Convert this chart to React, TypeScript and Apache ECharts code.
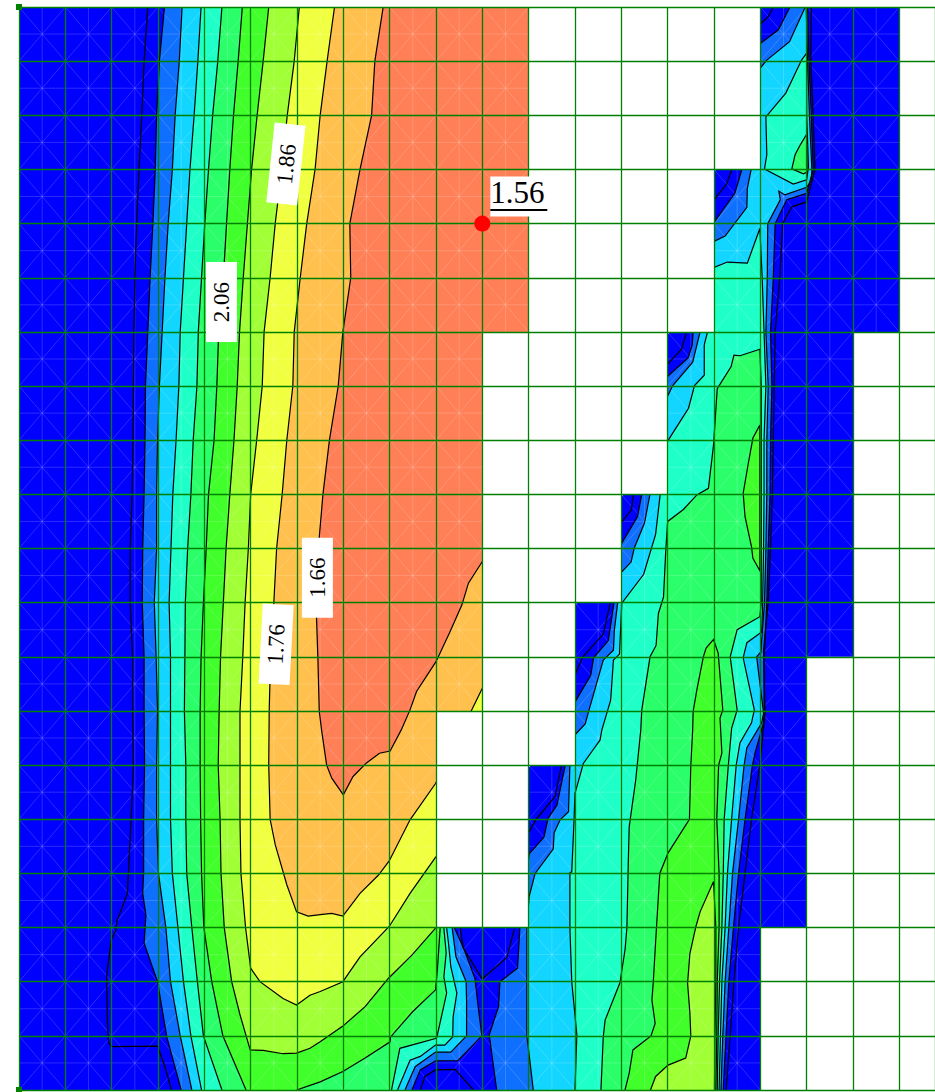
import React, { useEffect, useRef } from "react";
import * as echarts from "echarts";

type P = number[];

// Mesh: columns and rows of the computation grid
const COLS = 20;
const ROWS = 20;
const VISIBLE_COLS = 19.77;
// filled spans of rows [from, to) per column; everything else is outside the domain
const filledSpans: number[][][] = [
  [[0, 20]], [[0, 20]], [[0, 20]], [[0, 20]], [[0, 20]], [[0, 20]], [[0, 20]], [[0, 20]], [[0, 20]],
  [[0, 13], [17, 20]], [[0, 6], [17, 20]], [[14, 20]], [[11, 20]], [[9, 20]], [[6, 20]], [[3, 20]],
  [[0, 17]], [[0, 12]], [[0, 6]], [],
];

const bandColors = ["#0000ff", "#0f70ff", "#12d6ff", "#1fffc8", "#2aff6a", "#40ff2a", "#a0ff35", "#f0ff40", "#ffc04d", "#ff7f57"];

// column position of each contour at rows 0,1,2...
const rowX0 = [2.78, 2.7, 2.65, 2.59, 2.54, 2.5, 2.48, 2.47, 2.46, 2.44, 2.4, 2.4, 2.45, 2.45, 2.47, 2.42, 2.36];
const rowX1 = [3.14, 3.03, 2.97, 2.94, 2.89, 2.83, 2.78, 2.73, 2.72, 2.7, 2.67, 2.66, 2.7, 2.7, 2.71, 2.69, 2.69];
const rowX2 = [3.52, 3.46, 3.37, 3.31, 3.22, 3.15, 3.09, 3.03, 2.99, 2.97, 2.97, 2.92, 2.96, 2.99, 2.97, 2.97, 3.01, 3.17, 3.27, 3.48, 3.73];
const rowX3 = [3.93, 3.86, 3.78, 3.69, 3.62, 3.55, 3.48, 3.45, 3.39, 3.32, 3.28, 3.24, 3.27, 3.27, 3.27, 3.27, 3.31, 3.43, 3.55, 3.71, 3.94];
const rowX4 = [4.38, 4.29, 4.18, 4.09, 4.01, 3.94, 3.87, 3.84, 3.76, 3.71, 3.64, 3.59, 3.58, 3.57, 3.6, 3.6, 3.62, 3.73, 3.85, 3.98, 4.38];
const rowX5 = [4.82, 4.73, 4.63, 4.55, 4.48, 4.41, 4.31, 4.27, 4.21, 4.09, 4.04, 3.98, 3.93, 3.91, 3.91, 3.92, 3.94, 3.99, 4.16, 4.4, 4.9];
const rowX6 = [5.39, 5.27, 5.14, 5.02, 4.93, 4.84, 4.76, 4.71, 4.64, 4.55, 4.47, 4.41, 4.35, 4.32, 4.3, 4.34, 4.36, 4.43];
const rowX7 = [6.05, 5.94, 5.79, 5.67, 5.53, 5.42, 5.29, 5.25, 5.13, 5.0, 4.95, 4.88, 4.83, 4.77, 4.77, 4.77, 4.79];
const rowX8 = [6.81, 6.65, 6.5, 6.39, 6.21, 6.07, 5.94, 5.91, 5.78, 5.68, 5.56, 5.5, 5.43, 5.4, 5.39, 5.42];
const rowX9 = [7.86, 7.68, 7.61, 7.36, 7.14, 7.16, 6.99, 6.89, 6.7, 6.56, 6.46, 6.41, 6.45, 6.48];

const tail0: P[] = [[2.34, 16.37], [2.11, 16.89], [2.09, 17.05], [1.99, 17.23], [1.89, 17.91], [1.91, 18.77], [1.93, 19.11], [1.99, 19.2], [2.99, 19.19], [3.15, 19.57], [3.29, 20]];
const tail1: P[] = [[2.67, 16.37], [2.74, 16.77], [2.7, 17.29], [2.99, 18], [3.19, 19.02], [3.5, 20]];
const tail6: P[] = [[4.59, 18], [4.77, 18.61], [4.99, 19.26], [5.27, 19.27], [5.7, 19.33], [5.99, 19.32], [6.28, 19.23], [6.5, 19.11], [6.99, 18.82], [7.47, 18.46], [7.97, 17.94], [8.48, 17.51], [8.99, 17.01]];
const tail7: P[] = [[4.89, 17], [5.0, 17.75], [5.2, 18], [5.7, 18.31], [5.99, 18.43], [6.28, 18.25], [6.5, 18.18], [6.99, 18], [7.36, 17.54], [7.99, 16.98], [8.44, 16.37], [9, 15.69]];
const tail8: P[] = [[5.53, 15.47], [5.78, 16.21], [5.99, 16.71], [6.24, 16.79], [6.5, 16.76], [6.75, 16.74], [6.99, 16.79], [7.36, 16.37], [7.76, 16.03], [7.99, 15.77], [8.44, 15.01], [8.99, 14.34], [9.76, 13], [10, 12.58]];
const tail9: P[] = [[6.53, 13.35], [6.64, 14], [6.75, 14.24], [7.0, 14.55], [7.21, 14.21], [7.5, 13.96], [7.78, 13.78], [8.01, 13.74], [8.25, 13.35], [8.44, 12.98], [8.58, 12.64], [9, 12.09], [9.3, 11.54], [9.56, 11.04], [9.7, 10.64], [10, 10.24]];

const return1: P[] = [[8.48, 20], [8.66, 19.63], [8.99, 19.46], [9.47, 19.46], [9.99, 19], [9.91, 18.46], [9.84, 17.94], [9.61, 17.41], [9.4, 17.01]];
const return2: P[] = [[8.33, 20], [8.55, 19.57], [8.99, 19.3], [9.32, 19.3], [9.66, 19], [9.66, 18.34], [9.65, 18], [9.43, 17.54], [9.35, 17.01]];
const return3: P[] = [[8.17, 20], [8.44, 19.45], [8.66, 19.38], [8.99, 19.17], [9.19, 19.17], [9.36, 19.02], [9.37, 18.65], [9.45, 18.21], [9.32, 17.72], [9.27, 17.29], [9.23, 17.01]];
const return4: P[] = [[8.04, 20], [8.22, 19.23], [8.99, 19.05], [9.02, 19.02], [9.23, 18.21], [9.17, 17.91], [9.22, 17.47], [9.17, 17.01]];
const return5: P[] = [[5.99, 20], [6.5, 19.85], [6.99, 19.66], [7.47, 19.41], [8.01, 19.11], [8.02, 19.02], [8.5, 18.55], [8.99, 18.15], [9.03, 17.78], [9.09, 17.01]];

const valley0a: P[] = [[9.52, 17.01], [9.59, 17.38], [10, 17.95], [10.53, 17.55], [10.69, 17.03]];
const valley0b: P[] = [[8.66, 20], [8.76, 19.75], [8.99, 19.63], [9.41, 19.62], [9.81, 20]];

const right1Left: P[] = [[10.31, 20], [10.15, 18.98], [10.35, 18.46], [10.38, 18], [10.76, 17.75], [10.81, 17.01], [11.01, 15.64], [11.33, 15.33], [11.42, 14.98], [11.61, 14.74], [11.79, 14], [11.99, 12.85], [12.34, 12.34], [12.4, 12.02], [12.72, 11.7], [12.84, 11.01], [12.99, 9.93], [13.35, 9.41], [13.44, 9], [13.99, 6.83], [14.44, 6.48], [14.53, 6.24], [14.55, 6], [15, 3.98], [15.45, 3.44], [15.6, 3.01], [15.99, 0.68], [16.39, 0.42], [16.64, 0]];
const right1Right: P[] = [[17.02, 0], [17.05, 1], [17.1, 2], [17.14, 3], [17.0, 3.44], [16.57, 3.56], [16.32, 4], [16.28, 5], [16.22, 6], [16.25, 7], [16.22, 8], [16.21, 9], [16.17, 10], [16.14, 11], [16.08, 12.06], [16.08, 13.04], [16.07, 13.22], [15.89, 13.76], [15.83, 14], [15.67, 15], [15.53, 16], [15.42, 17], [15.32, 18], [15.26, 19], [15.2, 20]];
const right2Left: P[] = [[11.1, 20], [10.99, 19.2], [10.96, 19], [10.96, 17], [11.01, 16.43], [11.14, 16], [11.53, 15.55], [11.55, 15.25], [11.68, 15.01], [11.86, 14.86], [11.89, 14], [11.99, 13.45], [12.22, 13.24], [12.29, 13.02], [12.61, 12.06], [12.83, 11.88], [12.85, 11.51], [12.92, 11.01], [12.99, 10.45], [13.21, 10.25], [13.28, 9.99], [13.5, 9.53], [13.62, 8.99], [13.99, 7.2], [14.11, 6.99], [14.54, 6.56], [14.7, 6], [15, 4.33], [15.24, 4.23], [15.71, 3.7], [15.72, 3.35], [15.8, 3.01], [15.99, 1.14], [16.14, 0.98], [16.63, 0.64], [16.97, 0]];
const right2Right: P[] = [[16.99, 0], [17.02, 1], [17.06, 2.01], [17.11, 2.95], [17.11, 3.19], [17, 3.33], [16.53, 3.47], [16.4, 3.4], [16.43, 3.56], [16.16, 4], [16.15, 5], [16.12, 6], [16.17, 7], [16.14, 8], [16.14, 9], [16.12, 10], [16.09, 11], [16.01, 11.91], [15.92, 12], [16.07, 13.04], [16.03, 13.22], [15.71, 13.68], [15.65, 14], [15.53, 15], [15.4, 16], [15.32, 17], [15.24, 18], [15.19, 19], [15.15, 20]];
const right3: P[] = [[12, 20], [12.04, 18.98], [11.93, 18], [11.89, 17], [11.89, 15.99], [11.93, 15.97], [11.98, 15.01], [12, 14.52], [12.18, 13.97], [12.43, 13.67], [12.54, 13.54], [12.58, 13.35], [12.77, 12.8], [12.83, 12.06], [12.96, 11.95], [13.01, 11.01], [13.48, 10.48], [13.74, 9.74], [13.84, 8.99], [13.99, 8.03], [14.45, 7.41], [14.58, 6.99], [14.79, 6.8], [14.79, 6.24], [14.86, 6], [15, 4.81], [15.29, 4.71], [15.72, 4.73], [15.99, 4.09], [16.04, 5], [16.08, 6], [16.12, 7], [16.08, 8], [16.08, 9], [16.07, 10], [16.05, 11], [16.03, 11.54], [15.71, 11.74], [15.63, 12.02], [15.87, 12.98], [15.81, 13.22], [15.56, 13.59], [15.48, 14], [15.38, 15], [15.29, 16], [15.24, 17], [15.17, 18], [15.14, 19], [15.11, 20]];
const upper3: P[] = [[16.09, 2.99], [16.14, 2.73], [16.12, 2.03], [16.55, 1.59], [16.89, 0.98], [17, 0.85], [17, 2.01], [17.04, 2.95], [17, 3.19], [16.71, 3.27], [16.09, 2.99]];
const upper4: P[] = [[17, 2.35], [16.86, 2.55], [16.75, 2.73], [16.68, 2.99], [16.93, 3.08], [17.01, 3.05], [17, 2.35]];
const right4: P[] = [[12.56, 20], [12.61, 19.02], [12.65, 18.71], [12.97, 18.02], [13.08, 17.41], [13.12, 17.01], [13.15, 15.81], [13.17, 15.14], [13.31, 14.28], [13.42, 13.35], [13.44, 12.99], [13.62, 12], [13.75, 11.79], [13.8, 11.2], [13.91, 10.9], [13.96, 10.03], [14, 9.5], [14.34, 9.28], [14.63, 9.01], [14.88, 8.89], [14.99, 8.09], [15.07, 7.05], [15.37, 6.64], [15.43, 6.43], [15.56, 6.44], [15.99, 6.32], [16.02, 7], [16.02, 11], [15.99, 11.26], [15.5, 11.5], [15.35, 12], [15.5, 12.98], [15.38, 13.32], [15.31, 14], [15.22, 15], [15.2, 16], [15.17, 17], [15.12, 18], [15.09, 19], [15.07, 20]];
const lens5: P[] = [[15.99, 7.72], [15.84, 7.96], [15.74, 8.43], [15.63, 8.98], [15.67, 9.41], [15.81, 9.97], [15.84, 10.18], [15.99, 10.41], [15.99, 7.72]];
const right5: P[] = [[13.08, 20], [13.17, 19.69], [13.25, 19.26], [13.64, 19], [13.73, 18.77], [13.66, 18.34], [13.69, 18], [13.76, 16.98], [13.83, 16], [14.01, 15.62], [14.47, 15], [14.5, 14], [14.54, 13.35], [14.55, 13.01], [14.63, 12.61], [14.77, 12], [14.83, 11.84], [14.99, 11.68], [15.09, 11.93], [15.19, 12.98], [15.13, 13.13], [15.17, 13.78], [15.1, 14], [15.06, 15], [15.11, 16], [15.11, 17], [15.07, 18], [15.06, 19], [15.04, 20]];
const right6: P[] = [[13.63, 20], [13.74, 19.75], [14.01, 19.54], [14.39, 19.41], [14.5, 19], [14.48, 18.58], [14.43, 18.03], [14.48, 17.48], [14.61, 16.98], [14.7, 16.71], [14.99, 16.15], [15.04, 17], [15.04, 18], [15.02, 19], [15.01, 20]];

// the zero-band contours, which lie inside the lowest colour
const stepLines0: P[][] = [
  [[15.99, 0.32], [16.17, 0.18], [16.28, 0]],
  [[15, 3.56], [15.28, 3.26], [15.38, 3.01]],
  [[13.99, 6.6], [14.3, 6.32], [14.41, 6]],
  [[12.99, 9.53], [13.22, 9.28], [13.26, 9]],
  [[11.99, 12.35], [12.17, 12], [12.61, 11.58], [12.76, 11.01]],
  [[11.01, 15.23], [11.16, 15], [11.57, 14.58], [11.71, 14]],
];
const right0: P[] = [[17.1, 0], [17.09, 1], [17.14, 2], [17.18, 3], [17, 3.6], [16.68, 3.69], [16.48, 4], [16.42, 5], [16.32, 6], [16.3, 7], [16.28, 8], [16.26, 9], [16.22, 10], [16.17, 11], [16.07, 11.87], [16.1, 13.04], [15.99, 14], [15.81, 15], [15.67, 16], [15.53, 17], [15.43, 18], [15.35, 19], [15.26, 20]];

// labels along contours: text, column, row, rotation in degrees
const contourLabels: [string, number, number, number][] = [
  ["1.86", 5.76, 2.9, 84],
  ["2.06", 4.37, 5.45, 90],
  ["1.76", 5.55, 11.77, 87],
  ["1.66", 6.44, 10.54, 90],
];
const probeValue = "1.56";
const probePoint: P = [10, 4];
const cornerPoints: P[] = [[0, 0], [0, 20]];

const byRow = (xs: number[]): P[] => xs.map((x, i) => [x, i]);

const left0 = [...byRow(rowX0), ...tail0];
const left1 = [...byRow(rowX1), ...tail1];
const left2 = byRow(rowX2);
const left3 = byRow(rowX3);
const left4 = byRow(rowX4);
const left5 = byRow(rowX5);
const left6 = [...byRow(rowX6), ...tail6];
const left7 = [...byRow(rowX7), ...tail7];
const left8 = [...byRow(rowX8), ...tail8];
const left9 = [...byRow(rowX9), ...tail9];

// routes through the cells outside the domain, hidden by them
const hiddenFar: P[] = [[9.5, 16], [10.5, 16], [10.5, 6], [11, 6], [11, 0]];
const hiddenMid: P[] = [[9.5, 15], [10.5, 15], [10.5, 6], [11, 6], [11, 0]];
const hiddenNear: P[] = [[10.5, 10], [10.5, 6], [11, 6], [11, 0]];

const fills: { pts: P[]; c: number }[] = [
  { pts: [...left1, ...return1, ...hiddenFar], c: 1 },
  { pts: [...right1Left, ...right1Right], c: 1 },
  { pts: [...left2, ...return2, ...hiddenFar], c: 2 },
  { pts: [...right2Left, ...right2Right], c: 2 },
  { pts: [...left3, ...return3, ...hiddenFar], c: 3 },
  { pts: right3, c: 3 },
  { pts: upper3, c: 3 },
  { pts: [...left4, ...return4, ...hiddenFar], c: 4 },
  { pts: right4, c: 4 },
  { pts: upper4, c: 4 },
  { pts: [...left5, ...return5, ...hiddenFar], c: 5 },
  { pts: right5, c: 5 },
  { pts: lens5, c: 5 },
  { pts: [...left6, ...hiddenFar], c: 6 },
  { pts: right6, c: 6 },
  { pts: [...left7, ...hiddenMid], c: 7 },
  { pts: [...left8, ...hiddenNear], c: 8 },
  { pts: [...left9, ...hiddenNear], c: 9 },
];

const contourLines: P[][] = [
  left0, left1, left2, left3, left4, left5, left6, left7, left8, left9,
  return1, return2, return3, return4, return5, valley0a, valley0b,
  right1Left, right1Right, right2Left, right2Right, right3, upper3, upper4, right4, lens5, right5, right6,
  right0, ...stepLines0,
];

const isFilled = (c: number, r: number) => (filledSpans[c] || []).some(([a, b]) => r >= a && r < b);
const meshCells: P[] = [];
const outsideCells: P[] = [];
for (let c = 0; c <= COLS; c++) {
  for (let r = 0; r < ROWS; r++) {
    (isFilled(c, r) ? meshCells : outsideCells).push([c, r]);
  }
}

const indexData = (arr: unknown[]) => arr.map((_, i) => [i, 0]);
const pts = (api: any, list: P[]) => list.map((p) => api.coord(p));

export default function App() {
  const ref = useRef<HTMLDivElement>(null);
  useEffect(() => {
    document.body.style.margin = "0";
    const chart = echarts.init(ref.current!, null, { renderer: "svg" });
    const axisBase = {
      type: "value",
      min: 0,
      max: ROWS,
      interval: 1,
      z: 5,
      axisLine: { show: false },
      axisTick: { show: false },
      axisLabel: { show: false },
      splitLine: { show: true, lineStyle: { color: "#008000", width: 1.3 } },
    };
    const custom = (z: number, arr: unknown[], renderItem: any) => ({
      type: "custom",
      coordinateSystem: "cartesian2d",
      clip: true,
      silent: true,
      z,
      data: indexData(arr),
      encode: { x: 0, y: 1 },
      renderItem,
    });
    chart.setOption({
      animation: false,
      backgroundColor: "#ffffff",
      grid: { left: 19, top: 7, right: 0, height: 1083, containLabel: false },
      xAxis: { ...axisBase, max: VISIBLE_COLS },
      yAxis: { ...axisBase, inverse: true },
      tooltip: { show: false },
      series: [
        custom(1, [0], (_: any, api: any) => ({
          type: "polygon",
          shape: { points: pts(api, [[0, 0], [20, 0], [20, 20], [0, 20]]) },
          style: { fill: bandColors[0] },
        })),
        custom(1, fills, (p: any, api: any) => ({
          type: "polygon",
          shape: { points: pts(api, fills[p.dataIndex].pts) },
          style: { fill: bandColors[fills[p.dataIndex].c] },
        })),
        custom(1, meshCells, (p: any, api: any) => {
          const [c, r] = meshCells[p.dataIndex];
          const st = { stroke: "rgba(255,255,255,0.17)", lineWidth: 1, fill: "none" };
          const seg = (a: P, b: P) => {
            const A = api.coord(a);
            const B = api.coord(b);
            return { type: "line", shape: { x1: A[0], y1: A[1], x2: B[0], y2: B[1] }, style: st };
          };
          return {
            type: "group",
            children: [
              seg([c, r], [c + 1, r + 1]),
              seg([c + 1, r], [c, r + 1]),
              seg([c + 0.5, r], [c + 0.5, r + 1]),
              seg([c, r + 0.5], [c + 1, r + 0.5]),
            ],
          };
        }),
        custom(2, contourLines, (p: any, api: any) => ({
          type: "polyline",
          shape: { points: pts(api, contourLines[p.dataIndex]) },
          style: { stroke: "#000000", lineWidth: 1.2, fill: "none" },
        })),
        custom(3, outsideCells, (p: any, api: any) => {
          const [c, r] = outsideCells[p.dataIndex];
          // overlap neighbouring outside cells so that no seam shows through
          const c2 = c + 1 + (c < COLS && !isFilled(c + 1, r) ? 0.03 : 0);
          const r2 = r + 1 + (r + 1 < ROWS && !isFilled(c, r + 1) ? 0.03 : 0);
          return {
            type: "polygon",
            shape: { points: pts(api, [[c, r], [c2, r], [c2, r2], [c, r2]]) },
            style: { fill: "#ffffff" },
          };
        }),
        custom(10, contourLabels, (p: any, api: any) => {
          const [text, c, r, rot] = contourLabels[p.dataIndex];
          const [x, y] = api.coord([c, r]);
          return {
            type: "group",
            x,
            y,
            rotation: (rot * Math.PI) / 180,
            children: [
              { type: "rect", shape: { x: -40, y: -15.5, width: 80, height: 31 }, style: { fill: "#ffffff" } },
              {
                type: "text",
                style: { text, x: 0, y: 0, align: "center", verticalAlign: "middle", fill: "#000000", font: '23px "Liberation Serif"' },
              },
            ],
          };
        }),
        custom(10, [probeValue], (_: any, api: any) => {
          const [x, y] = api.coord(probePoint);
          return {
            type: "group",
            x,
            y,
            children: [
              { type: "rect", shape: { x: 8, y: -47, width: 57, height: 40 }, style: { fill: "#ffffff" } },
              {
                type: "text",
                style: { text: probeValue, x: 8, y: -16, align: "left", verticalAlign: "bottom", fill: "#000000", font: '31px "Liberation Serif"' },
              },
              { type: "rect", shape: { x: 8, y: -14.5, width: 57, height: 2 }, style: { fill: "#000000" } },
            ],
          };
        }),
        {
          type: "scatter",
          z: 11,
          clip: false,
          silent: true,
          symbolSize: 16,
          itemStyle: { color: "#ff0000", opacity: 1 },
          data: [probePoint],
        },
        {
          type: "scatter",
          z: 11,
          clip: false,
          silent: true,
          symbol: "rect",
          symbolSize: 6,
          itemStyle: { color: "#008000", opacity: 1 },
          data: cornerPoints,
        },
      ],
    });
    return () => chart.dispose();
  }, []);
  return <div ref={ref} style={{ width: 935, height: 1092, background: "#fff" }} />;
}
